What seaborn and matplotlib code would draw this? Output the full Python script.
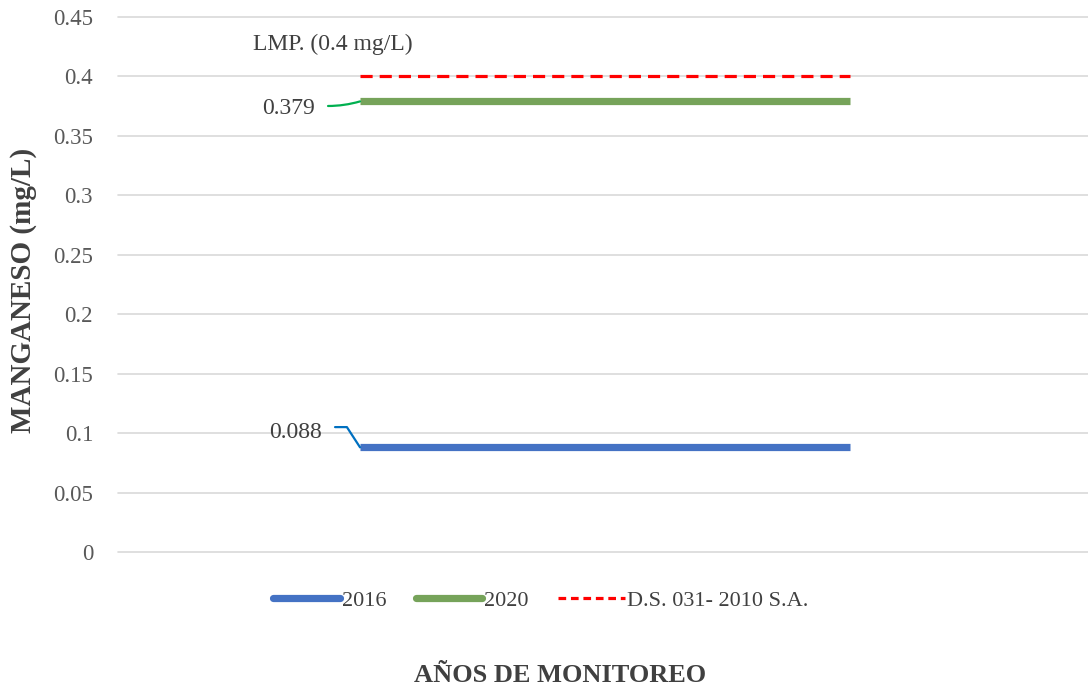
import numpy as np
import pandas as pd
import seaborn as sns
import matplotlib.pyplot as plt

# datos
x_puntos = [0, 1]
series = ["2016", "2020", "D.S. 031- 2010 S.A."]
mn_2016 = [0.088, 0.088]
mn_2020 = [0.379, 0.379]
lmp_ds = [0.4, 0.4]
y_ticks = [0, 0.05, 0.1, 0.15, 0.2, 0.25, 0.3, 0.35, 0.4, 0.45]
y_tick_labels = ["0", "0.05", "0.1", "0.15", "0.2", "0.25", "0.3", "0.35", "0.4", "0.45"]
etiquetas = ["0.088", "0.379"]

df = pd.DataFrame({
    "punto": x_puntos * 3,
    "valor": mn_2016 + mn_2020 + lmp_ds,
    "serie": [s for s in series for _ in x_puntos],
})

sns.set_theme(style="white")
plt.rcParams['font.family'] = ['Liberation Serif', 'DejaVu Serif']

colores = {"2016": "#4472C4", "2020": "#76A35A", "D.S. 031- 2010 S.A.": "#FF0000"}
grosor = {"2016": 5.2, "2020": 5.2, "D.S. 031- 2010 S.A.": 2.3}
guiones = {"2016": "", "2020": "", "D.S. 031- 2010 S.A.": (3.8, 2.2)}

fig = plt.figure(figsize=(10.88, 6.91), dpi=100)
ax = fig.add_axes([0.1085, 0.2012, 0.8915, 0.7742])

sns.lineplot(data=df, x="punto", y="valor", hue="serie", size="serie", style="serie",
             palette=colores, sizes=grosor, dashes=guiones, legend=False, ax=ax)

ax.set_xlim(-0.494, 1.486)
ax.set_ylim(0, 0.45)
ax.set_yticks(y_ticks)
ax.set_yticklabels(y_tick_labels)
ax.set_xticks([])
ax.tick_params(axis='y', length=0, pad=18, labelsize=16.5, labelcolor="#595959")
ax.grid(axis='y', color="#d9d9d9", linewidth=1.2)
for gl in ax.get_ygridlines():
    gl.set_clip_on(False)
for s in ax.spines.values():
    s.set_visible(False)

ax.set_ylabel("MANGANESO (mg/L)", fontsize=21, fontweight='bold', color="#404040")
ax.yaxis.set_label_coords(-0.097, 0.488)
ax.yaxis.label.set_va('center')
ax.set_xlabel("AÑOS DE MONITOREO", fontsize=19, fontweight='bold', color="#404040")
ax.xaxis.set_label_coords(0.456, -0.23)
ax.xaxis.label.set_va('center')

# etiquetas de datos con lineas guia
ax.annotate(etiquetas[0], xy=(x_puntos[0], mn_2016[0]), xytext=(-38, 15), textcoords='offset pixels',
            ha='right', va='center', fontsize=17, color="#404040",
            arrowprops=dict(arrowstyle='-', color="#0070C0", lw=1.6, shrinkA=7, shrinkB=0,
                            relpos=(1, 0.75), connectionstyle="angle,angleA=0,angleB=-57,rad=0"))
ax.annotate(etiquetas[1], xy=(x_puntos[0], mn_2020[0]), xytext=(-45, -7), textcoords='offset pixels',
            ha='right', va='center', fontsize=17, color="#404040",
            arrowprops=dict(arrowstyle='-', color="#00B050", lw=1.6, shrinkA=7, shrinkB=0,
                            relpos=(1, 0.65), connectionstyle="arc3,rad=0.1"))
ax.annotate("LMP. (0.4 mg/L)", xy=(x_puntos[0], lmp_ds[0]), xytext=(-27, 32), textcoords='offset pixels',
            ha='center', va='center', fontsize=17, color="#404040")

handles = ax.get_lines()[:3]
for h in handles[:2]:
    h.set_solid_capstyle('butt')
leg = fig.legend(handles, series, loc='center', bbox_to_anchor=(0.497, 0.131), ncol=3,
                 frameon=False, fontsize=16, handlelength=3.0, handletextpad=0.1, columnspacing=1.3)
for t in leg.get_texts():
    t.set_color("#404040")
for lh in leg.legend_handles[:2]:
    lh.set_solid_capstyle('round')
leg.legend_handles[2].set_dashes((2.4, 1.5))

fig.savefig("out.png", dpi=100)
